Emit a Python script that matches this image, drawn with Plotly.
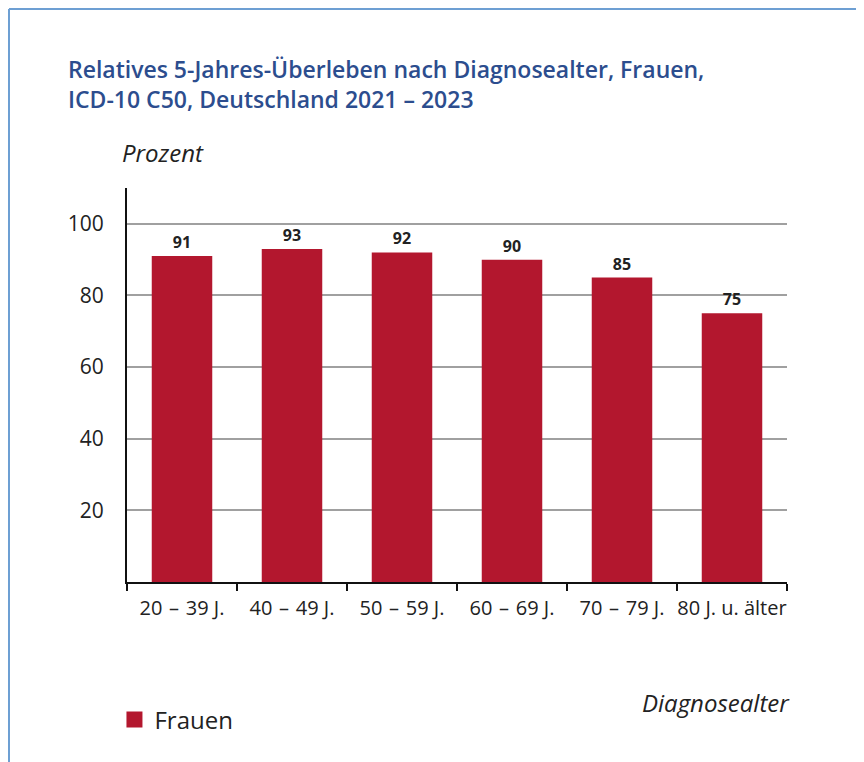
import plotly.graph_objects as go

# Daten
altersgruppen = ['20\u2004–\u200439 J.', '40\u2004–\u200449 J.', '50\u2004–\u200459 J.',
                 '60\u2004–\u200469 J.', '70\u2004–\u200479 J.', '80 J. u. älter']
ueberleben = [91, 93, 92, 90, 85, 75]
y_ticks = [20, 40, 60, 80, 100]

bar_color = '#b3172e'
title_color = '#2c4d8e'
font_family = 'Open Sans, sans-serif'

fig = go.Figure()

fig.add_trace(go.Bar(
    x=altersgruppen,
    y=ueberleben,
    name='Frauen',
    marker_color=bar_color,
    marker_line_width=0,
    text=[str(v) for v in ueberleben],
    textposition='outside',
    textfont=dict(size=16, color='#222222', family=font_family, weight='bold'),
    cliponaxis=False,
    showlegend=False,
    hoverinfo='x+y',
))

# Legendeneintrag mit größerem Quadrat
fig.add_trace(go.Scatter(
    x=[None], y=[None],
    mode='markers',
    name='Frauen',
    marker=dict(symbol='square', size=22, color=bar_color),
    showlegend=True,
))

# Rahmen (blaue Linie oben und links)
frame = dict(color='#6d9fd3', width=2)
fig.add_shape(type='line', xref='paper', yref='paper', x0=-0.1788, y0=1.4543, x1=1.2, y1=1.4543, line=frame)
fig.add_shape(type='line', xref='paper', yref='paper', x0=-0.1788, y0=1.4543, x1=-0.1788, y1=-0.5, line=frame)

fig.update_layout(
    width=864,
    height=762,
    margin=dict(l=119, r=85, t=180, b=188),
    paper_bgcolor='white',
    plot_bgcolor='white',
    bargap=0.45,
    title=dict(
        text='Relatives 5-Jahres-Überleben nach Diagnosealter, Frauen,<br>ICD-10 C50, Deutschland 2021 – 2023',
        x=0.0694, xanchor='left',
        y=0.908, yanchor='top',
        font=dict(size=23, color=title_color, family=font_family, weight=600),
    ),
    xaxis=dict(
        type='category',
        showline=True, linecolor='#111111', linewidth=2,
        ticks='outside', tickson='boundaries', ticklen=7, tickwidth=2, tickcolor='#111111',
        tickfont=dict(size=20, color='#222222', family=font_family),
        tickangle=0, ticklabelstandoff=7,
        showgrid=False,
    ),
    yaxis=dict(
        range=[0, 110],
        showline=True, linecolor='#111111', linewidth=2,
        tickvals=y_ticks,
        tickfont=dict(size=21, color='#222222', family=font_family),
        showgrid=True, gridcolor='#a0a0a0', gridwidth=1.5,
        zeroline=False,
        ticks='', ticklabelstandoff=17,
    ),
    showlegend=True,
    legend=dict(
        orientation='h',
        x=-0.019, xanchor='left',
        y=-0.35, yanchor='middle',
        font=dict(size=24, color='#222222', family=font_family),
        itemsizing='trace',
    ),
    annotations=[
        dict(text='Prozent', xref='paper', yref='paper', x=-0.01, y=1.042,
             xanchor='left', yanchor='bottom', showarrow=False,
             font=dict(size=24, color='#222222', family=font_family, style='italic')),
        dict(text='Diagnosealter', xref='paper', yref='paper', x=1.008, y=-0.305,
             xanchor='right', yanchor='middle', showarrow=False,
             font=dict(size=24, color='#222222', family=font_family, style='italic')),
    ],
)

fig.write_html('out.html')
